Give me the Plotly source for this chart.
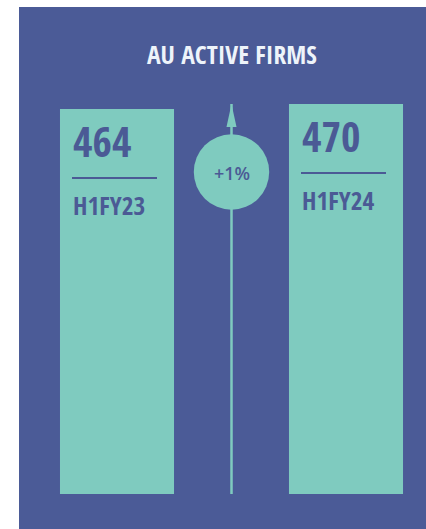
import plotly.graph_objects as go

# ---- data ----
periods = ["H1FY23", "H1FY24"]
active_firms = [464, 470]
title_text = "AU ACTIVE FIRMS"

# ---- style ----
BG = "#4B5B97"
TEAL = "#7FCBBF"
NAVY = "#4B5A95"
TITLE_C = "#EEF4FA"
COND = "Open Sans Condensed, Roboto Condensed, DejaVu Sans Condensed, sans-serif"

W, H = 426, 529
bar_w = 0.498
px_per_unit = 385 / 464.0
zero_px = 494                 # pixel row of value 0
y_max = zero_px / px_per_unit

pct = (active_firms[1] - active_firms[0]) / active_firms[0] * 100
pct_text = f"+{pct:.0f}%"

fig = go.Figure()
fig.add_trace(go.Bar(
    x=list(range(len(periods))), y=active_firms, width=[bar_w] * len(periods),
    marker=dict(color=TEAL, line=dict(width=0)), hoverinfo="skip",
))

shapes = [
    dict(type="rect", xref="paper", yref="paper", x0=19 / W, x1=1.0, y0=0, y1=1 - 7 / H,
         fillcolor=BG, line=dict(width=0), layer="below"),
]
annotations = [
    dict(text=title_text, xref="paper", yref="paper", x=231.5 / W, y=1 - 54.5 / H,
         xanchor="center", yanchor="middle", showarrow=False,
         font=dict(family=COND, size=25.5, weight=700, color=TITLE_C)),
]

for i, (p, v) in enumerate(zip(periods, active_firms)):
    left = i - bar_w / 2
    annotations.append(dict(text=str(v), x=left, y=v, xref="x", yref="y",
                            xanchor="left", yanchor="middle", xshift=11, yshift=-31,
                            showarrow=False, font=dict(family=COND, size=42, weight=700, color=NAVY)))
    annotations.append(dict(text=p, x=left, y=v, xref="x", yref="y",
                            xanchor="left", yanchor="middle", xshift=11, yshift=-96,
                            showarrow=False, font=dict(family=COND, size=25.5, weight=700, color=NAVY)))
    shapes.append(dict(type="line", xref="x", yref="y", xsizemode="pixel", ysizemode="pixel",
                       xanchor=i, yanchor=v, x0=-45, x1=40, y0=-69, y1=-69,
                       line=dict(color=NAVY, width=2)))

mid = (len(periods) - 1) / 2
top = max(active_firms)
shapes += [
    dict(type="line", xref="x", yref="y", x0=mid, x1=mid, y0=0, y1=top,
         line=dict(color=TEAL, width=2.5)),
    dict(type="path", xref="x", yref="y", xsizemode="pixel", ysizemode="pixel",
         xanchor=mid, yanchor=top, path="M-5,-23 L5,-23 L0,0 Z",
         fillcolor=TEAL, line=dict(width=0)),
    dict(type="circle", xref="x", yref="y", xsizemode="pixel", ysizemode="pixel",
         xanchor=mid, yanchor=top, x0=-37.7, x1=37.7, y0=-68 - 37.7, y1=-68 + 37.7,
         fillcolor=TEAL, line=dict(width=0)),
]
annotations.append(dict(text=pct_text, x=mid, y=top, xref="x", yref="y",
                        xanchor="center", yanchor="middle", yshift=-69, showarrow=False,
                        font=dict(family="Open Sans, sans-serif", size=18, weight=600, color=NAVY)))

fig.update_layout(
    width=W, height=H, margin=dict(l=0, r=0, t=0, b=0),
    paper_bgcolor="white", plot_bgcolor="rgba(0,0,0,0)",
    showlegend=False, shapes=shapes, annotations=annotations,
    xaxis=dict(range=[-117 / 229, (W - 117) / 229], visible=False, fixedrange=True),
    yaxis=dict(range=[0, y_max], domain=[(H - zero_px) / H, 1], visible=False, fixedrange=True),
)
fig.write_html(
    "out.html",
    config={"displayModeBar": False, "staticPlot": True},
    post_script=("document.body.style.margin='0';document.body.style.overflow='hidden';"
                 "document.documentElement.style.overflow='hidden';"),
)
